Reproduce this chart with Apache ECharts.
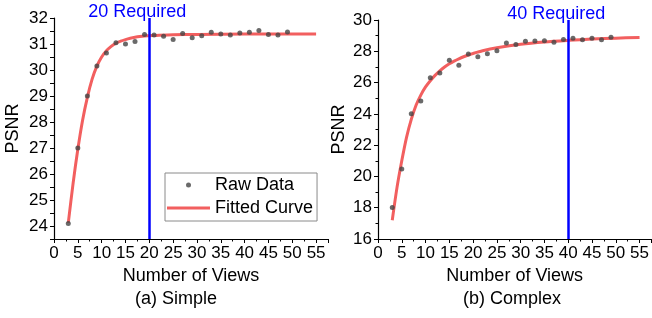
<!DOCTYPE html>
<html>
<head>
<meta charset="utf-8">
<script src="https://cdn.jsdelivr.net/npm/echarts@6/dist/echarts.min.js"></script>
<style>
  html, body { margin: 0; padding: 0; background: #fff; }
  #chart { width: 652px; height: 318px; }
</style>
</head>
<body>
<div id="chart"></div>
<script>
'use strict';

/* Raw measurements: number of views vs PSNR */
const views = [3, 5, 7, 9, 11, 13, 15, 17, 19, 21, 23, 25, 27, 29, 31, 33, 35, 37, 39, 41, 43, 45, 47, 49];
const simplePsnr = [24.1, 27.0, 29.0, 30.15, 30.65, 31.05, 31.0, 31.1, 31.37, 31.35, 31.3, 31.17,
  31.4, 31.24, 31.32, 31.45, 31.38, 31.35, 31.42, 31.45, 31.52, 31.37, 31.35, 31.46];
const complexPsnr = [18.02, 20.47, 24.0, 24.82, 26.31, 26.61, 27.42, 27.1, 27.83, 27.65, 27.85, 28.04,
  28.53, 28.44, 28.64, 28.66, 28.68, 28.57, 28.76, 28.83, 28.74, 28.83, 28.74, 28.89];

/* Fitted curves */
const simpleFitX = [3, 4, 5, 6, 7, 8, 9, 10, 11, 12, 13, 14, 15, 16, 17, 18, 19, 20, 22, 25, 30, 40, 55];
const simpleFitY = [24.12, 25.63, 26.95, 28.07, 28.95, 29.65, 30.15, 30.5, 30.74, 30.91, 31.03, 31.11,
  31.17, 31.22, 31.26, 31.29, 31.31, 31.32, 31.34, 31.36, 31.37, 31.38, 31.38];
const complexFitX = [3, 4, 5, 6, 7, 8, 9, 10, 11, 12, 13, 14, 15, 16, 17, 18, 19, 20, 22, 25, 30, 35, 40, 45, 50, 55];
const complexFitY = [17.2, 19.3, 21.0, 22.5, 23.65, 24.55, 25.2, 25.72, 26.12, 26.46, 26.75, 27.0, 27.2,
  27.37, 27.52, 27.65, 27.76, 27.86, 28.03, 28.22, 28.45, 28.6, 28.7, 28.78, 28.84, 28.88];

const requiredViews = [20, 40];
const panelTitles = ['(a) Simple', '(b) Complex'];

const FONT = '"Liberation Sans", Arial, sans-serif';
const RED = '#f25f5f';
const BLUE = '#0000ff';

const zip = (xs, ys) => xs.map((x, i) => [x, ys[i]]);

const xAxisFor = (gridIndex) => ({
  type: 'value',
  gridIndex,
  min: 0,
  max: 57.5,
  interval: 5,
  name: 'Number of Views',
  nameLocation: 'middle',
  nameGap: 27,
  nameTextStyle: { fontFamily: FONT, fontSize: 18, color: '#000' },
  axisLine: { show: true, onZero: false, lineStyle: { color: '#000', width: 1.2 } },
  axisTick: { show: true, length: 4, lineStyle: { color: '#000', width: 1 } },
  minorTick: { show: true, splitNumber: 2, length: 2.5, lineStyle: { color: '#000', width: 1 } },
  axisLabel: { fontFamily: FONT, fontSize: 17, color: '#000', margin: 6, showMaxLabel: false },
  splitLine: { show: false },
});

// Left axis starts at 23.5, so its ticks step by 0.5 and only whole numbers get a label.
const yAxisFor = (gridIndex, min, max, interval, nameGap, minor) => ({
  type: 'value',
  gridIndex,
  min,
  max,
  interval,
  name: 'PSNR',
  nameLocation: 'middle',
  nameGap,
  nameTextStyle: { fontFamily: FONT, fontSize: 18, color: '#000' },
  axisLine: { show: true, onZero: false, lineStyle: { color: '#000', width: 1.2 } },
  axisTick: { show: true, length: 4, lineStyle: { color: '#000', width: 1 } },
  minorTick: { show: minor, splitNumber: 2, length: 2.5, lineStyle: { color: '#000', width: 1 } },
  axisLabel: {
    fontFamily: FONT, fontSize: 17, color: '#000', margin: 6,
    formatter: (v) => (Number.isInteger(v) ? String(v) : ''),
  },
  splitLine: { show: false },
});

const rawSeries = (i, ys) => ({
  name: 'Raw Data',
  type: 'scatter',
  xAxisIndex: i,
  yAxisIndex: i,
  symbol: 'circle',
  symbolSize: 5,
  itemStyle: { color: '#454545' },
  z: 3,
  data: zip(views, ys),
});

const fitSeries = (i, xs, ys) => ({
  name: 'Fitted Curve',
  type: 'line',
  xAxisIndex: i,
  yAxisIndex: i,
  smooth: 0.3,
  showSymbol: false,
  symbol: 'none',
  lineStyle: { color: RED, width: 3 },
  itemStyle: { color: RED },
  z: 2,
  data: zip(xs, ys),
  markLine: {
    silent: true,
    symbol: ['none', 'none'],
    lineStyle: { color: BLUE, width: 2.5, type: 'solid' },
    label: {
      show: true,
      position: 'end',
      formatter: requiredViews[i] + ' Required',
      color: BLUE,
      fontFamily: FONT,
      fontSize: 18,
      distance: -3,
      padding: [0, 24, 0, 0],
    },
    data: [{ xAxis: requiredViews[i] }],
  },
});

const chart = echarts.init(document.getElementById('chart'), null, { renderer: 'canvas' });

chart.setOption({
  animation: false,
  backgroundColor: '#fff',
  grid: [
    { left: 54, top: 18, right: 324, bottom: 79 },
    { left: 378, top: 20, right: 0, bottom: 79 },
  ],
  xAxis: [xAxisFor(0), xAxisFor(1)],
  yAxis: [yAxisFor(0, 23.5, 32, 0.5, 32, false), yAxisFor(1, 16, 30, 2, 30, true)],
  legend: {
    orient: 'vertical',
    left: 165,
    top: 173,
    itemWidth: 43,
    itemHeight: 5,
    itemGap: 5,
    padding: [3, 4, 4, 2],
    borderColor: '#8a8a8a',
    borderWidth: 1,
    backgroundColor: '#fff',
    textStyle: { fontFamily: FONT, fontSize: 18, color: '#000' },
    data: [
      { name: 'Raw Data', icon: 'circle' },
      { name: 'Fitted Curve', icon: 'path://M0,0H43V3H0Z' },
    ],
  },
  graphic: panelTitles.map((t, i) => ({
    type: 'text',
    x: i === 0 ? 176 : 512,
    y: 299,
    style: { text: t, fontFamily: FONT, fontSize: 18, fill: '#000', textAlign: 'center', textVerticalAlign: 'middle' },
  })),
  series: [
    rawSeries(0, simplePsnr),
    fitSeries(0, simpleFitX, simpleFitY),
    rawSeries(1, complexPsnr),
    fitSeries(1, complexFitX, complexFitY),
  ],
});
</script>
</body>
</html>
